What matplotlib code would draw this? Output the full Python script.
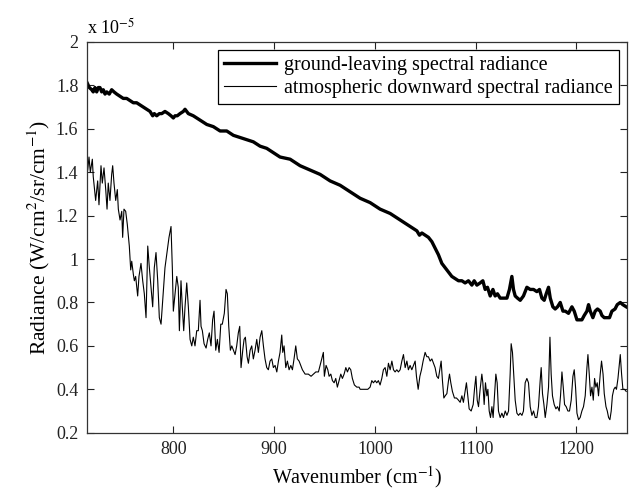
import matplotlib
matplotlib.use("Agg")
import matplotlib.pyplot as plt

# ---- data (radiance in units of 1e-5 W/cm^2/sr/cm^-1) ----
wn_ground = [714.6, 716.6, 719.0, 720.5, 722.2, 723.9, 725.5, 727.2, 728.9, 730.5, 732.2, 733.9,
             736.4, 738.8, 741.1, 743.8, 747.1, 750.3, 753.7, 757.0, 760.3, 763.6, 766.9, 770.2,
             773.6, 776.9, 779.5, 781.1, 783.5, 786.1, 788.5, 791.7, 795.0, 797.7, 800.0, 801.7,
             803.9, 806.6, 809.9, 811.6, 814.9, 819.8, 826.5, 833.2, 839.7, 846.4, 853.0, 859.6,
             866.2, 872.9, 879.4, 886.1, 892.7, 899.3, 905.9, 915.9, 925.8, 935.7, 945.7, 955.6,
             965.5, 975.4, 985.4, 995.3, 1005.2, 1015.2, 1025.1, 1035.0, 1041.7, 1044.3, 1046.7,
             1049.9, 1053.2, 1056.6, 1059.9, 1063.1, 1066.5, 1069.8, 1073.1, 1076.4, 1079.7,
             1083.0, 1086.4, 1089.6, 1092.9, 1096.3, 1098.6, 1101.3, 1104.5, 1107.2, 1109.5,
             1111.8, 1114.5, 1117.2, 1119.4, 1121.7, 1124.4, 1127.7, 1131.1, 1133.6, 1136.0,
             1137.6, 1139.3, 1141.6, 1144.3, 1147.5, 1150.9, 1154.2, 1157.5, 1160.8, 1163.4,
             1165.8, 1168.1, 1170.1, 1172.4, 1174.1, 1176.7, 1179.0, 1181.3, 1184.0, 1186.7,
             1189.0, 1192.2, 1195.6, 1197.9, 1200.6, 1203.1, 1205.5, 1207.8, 1210.5, 1212.1,
             1213.8, 1216.4, 1218.7, 1221.0, 1223.7, 1225.4, 1227.7, 1230.3, 1232.9, 1235.3,
             1238.4, 1240.6, 1243.6, 1246.1, 1249.5]
rad_ground = [1.81, 1.79, 1.78, 1.77, 1.79, 1.77, 1.79, 1.79, 1.77, 1.78, 1.76, 1.77,
              1.76, 1.78, 1.77, 1.76, 1.75, 1.74, 1.74, 1.73, 1.72, 1.72, 1.71, 1.70,
              1.69, 1.68, 1.66, 1.67, 1.66, 1.67, 1.67, 1.68, 1.67, 1.66, 1.65, 1.66,
              1.66, 1.67, 1.68, 1.69, 1.67, 1.66, 1.64, 1.62, 1.61, 1.59, 1.59, 1.57,
              1.56, 1.55, 1.54, 1.52, 1.51, 1.49, 1.47, 1.46, 1.43, 1.41, 1.39, 1.36,
              1.34, 1.31, 1.28, 1.26, 1.23, 1.21, 1.18, 1.15, 1.13, 1.11, 1.12,
              1.11, 1.10, 1.08, 1.05, 1.02, 0.98, 0.96, 0.94, 0.92, 0.91,
              0.90, 0.90, 0.89, 0.90, 0.88, 0.90, 0.88, 0.89, 0.90, 0.86,
              0.87, 0.83, 0.86, 0.83, 0.84, 0.82, 0.82, 0.82, 0.86, 0.92,
              0.86, 0.83, 0.82, 0.81, 0.83, 0.87, 0.86, 0.86, 0.85, 0.86,
              0.82, 0.81, 0.84, 0.87, 0.82, 0.78, 0.77, 0.78, 0.80, 0.76,
              0.76, 0.75, 0.78, 0.76, 0.72, 0.72, 0.72, 0.74, 0.76, 0.79,
              0.76, 0.73, 0.76, 0.77, 0.76, 0.74, 0.73, 0.73, 0.73, 0.76,
              0.77, 0.79, 0.80, 0.79, 0.78]

wn_atm = [715.0, 716.3, 717.6, 719.6, 720.5, 722.9, 724.9, 726.2, 728.2, 729.5, 731.2, 732.9,
          734.2, 735.4, 737.1, 738.8, 739.8, 741.1, 742.8, 744.4, 745.4, 747.1, 748.8, 749.7,
          751.0, 752.7, 754.3, 756.3, 757.7, 758.7, 760.3, 761.3, 762.6, 764.6, 765.9, 767.9,
          769.6, 771.2, 772.9, 774.6, 776.2, 777.8, 779.5, 781.1, 782.8, 784.5, 786.1, 787.8,
          789.8, 791.7, 793.7, 795.7, 797.7, 799.0, 800.0, 801.7, 803.4, 804.9, 806.0, 807.6,
          808.9, 810.3, 811.6, 813.3, 814.9, 816.6, 818.3, 819.8, 821.5, 823.2, 824.8, 826.5,
          827.5, 828.8, 830.5, 832.5, 834.1, 835.7, 837.4, 839.0, 840.4, 842.1, 843.7, 845.4,
          847.1, 848.6, 850.6, 852.3, 853.6, 855.0, 856.6, 858.0, 859.6, 861.3, 862.9, 864.5,
          865.9, 867.2, 868.9, 870.2, 871.5, 873.2, 874.5, 876.2, 877.8, 879.4, 881.1, 882.8,
          884.4, 886.1, 887.8, 889.4, 891.0, 892.7, 894.3, 896.0, 897.7, 899.3, 901.0, 902.7,
          904.3, 905.9, 907.6, 908.6, 909.9, 911.6, 913.2, 914.9, 916.6, 918.2, 919.8, 921.5,
          923.1, 924.8, 926.5, 928.1, 930.8, 934.0, 936.7, 939.0, 941.4, 944.0, 945.7, 947.3,
          948.9, 949.9, 951.6, 953.3, 954.6, 956.3, 957.9, 959.6, 961.2, 962.8, 964.5, 966.2,
          967.8, 969.5, 971.2, 972.8, 974.5, 976.1, 977.7, 979.7, 982.1, 984.4, 985.4, 987.7,
          990.3, 993.0, 995.3, 997.0, 998.6, 1000.3, 1001.9, 1003.5, 1005.2, 1006.9, 1008.5,
          1010.2, 1011.9, 1013.5, 1015.2, 1016.9, 1018.5, 1020.1, 1021.8, 1023.4, 1025.1,
          1026.8, 1028.4, 1030.1, 1031.8, 1033.3, 1035.0, 1036.7, 1038.3, 1040.0, 1041.3,
          1043.0, 1044.7, 1046.3, 1047.9, 1049.9, 1051.6, 1053.2, 1054.9, 1056.6, 1058.2,
          1059.8, 1061.5, 1063.1, 1064.8, 1065.8, 1067.1, 1068.5, 1069.8, 1071.5, 1073.1,
          1074.1, 1075.4, 1077.0, 1079.0, 1081.0, 1083.0, 1084.7, 1086.4, 1087.9, 1089.6,
          1090.9, 1092.3, 1093.6, 1095.6, 1097.6, 1098.9, 1100.3, 1101.6, 1102.9, 1104.5,
          1106.2, 1107.2, 1108.5, 1109.8, 1111.2, 1112.2, 1113.5, 1114.8, 1116.2, 1117.4,
          1118.8, 1120.1, 1121.4, 1122.7, 1124.4, 1126.1, 1127.7, 1129.4, 1131.1, 1132.7,
          1134.3, 1135.3, 1136.6, 1137.6, 1139.3, 1141.0, 1142.6, 1144.3, 1146.0, 1147.5,
          1149.2, 1150.9, 1152.5, 1154.2, 1155.9, 1157.5, 1159.2, 1160.8, 1162.4, 1164.1,
          1165.1, 1166.4, 1167.8, 1169.1, 1170.8, 1172.4, 1173.8, 1175.0, 1176.3, 1178.0,
          1179.7, 1181.3, 1183.0, 1184.3, 1185.7, 1187.0, 1188.3, 1189.9, 1191.6, 1193.2,
          1194.9, 1196.6, 1197.9, 1199.2, 1200.6, 1202.2, 1203.8, 1205.5, 1207.1, 1208.8,
          1210.5, 1211.5, 1212.8, 1214.1, 1215.5, 1216.8, 1218.1, 1219.4, 1220.7, 1222.0,
          1223.7, 1225.0, 1226.5, 1227.7, 1229.4, 1230.7, 1232.0, 1233.3, 1234.6, 1235.8,
          1237.2, 1238.6, 1239.8, 1241.3, 1242.6, 1243.6, 1244.9, 1246.2, 1247.8, 1249.5]
rad_atm = [1.41, 1.47, 1.40, 1.46, 1.38, 1.27, 1.36, 1.25, 1.43, 1.35, 1.42, 1.32,
           1.23, 1.35, 1.27, 1.39, 1.43, 1.35, 1.27, 1.32, 1.23, 1.18, 1.22, 1.10,
           1.23, 1.22, 1.16, 1.06, 0.95, 0.99, 0.93, 0.90, 0.92, 0.83, 0.92, 0.98,
           0.90, 0.84, 0.73, 1.06, 0.96, 0.87, 0.78, 0.96, 1.03, 0.90, 0.73, 0.70,
           0.83, 0.96, 1.03, 1.10, 1.15, 0.96, 0.76, 0.84, 0.92, 0.87, 0.67, 0.90,
           0.78, 0.67, 0.78, 0.89, 0.78, 0.63, 0.60, 0.64, 0.60, 0.67, 0.67, 0.81,
           0.69, 0.67, 0.61, 0.59, 0.63, 0.66, 0.60, 0.72, 0.76, 0.58, 0.63, 0.57,
           0.70, 0.70, 0.75, 0.86, 0.84, 0.69, 0.58, 0.60, 0.58, 0.56, 0.60, 0.66,
           0.69, 0.50, 0.58, 0.63, 0.64, 0.55, 0.52, 0.58, 0.60, 0.54, 0.58, 0.63,
           0.57, 0.64, 0.67, 0.60, 0.54, 0.50, 0.49, 0.53, 0.54, 0.50, 0.51, 0.48,
           0.53, 0.57, 0.65, 0.57, 0.60, 0.50, 0.53, 0.49, 0.51, 0.49, 0.54, 0.60,
           0.54, 0.53, 0.51, 0.49, 0.47, 0.47, 0.46, 0.47, 0.48, 0.48, 0.51, 0.54,
           0.57, 0.46, 0.51, 0.49, 0.46, 0.47, 0.44, 0.43, 0.45, 0.41, 0.44, 0.47,
           0.45, 0.47, 0.50, 0.48, 0.50, 0.49, 0.45, 0.42, 0.41, 0.41, 0.40, 0.40,
           0.40, 0.40, 0.41, 0.44, 0.43, 0.44, 0.43, 0.44, 0.42, 0.45, 0.49,
           0.50, 0.46, 0.52, 0.49, 0.53, 0.49, 0.48, 0.49, 0.48, 0.49,
           0.53, 0.56, 0.50, 0.53, 0.49, 0.51, 0.49, 0.51, 0.53, 0.46,
           0.40, 0.46, 0.49, 0.53, 0.57, 0.55, 0.55, 0.53, 0.54, 0.52,
           0.50, 0.46, 0.45, 0.50, 0.53, 0.44, 0.36, 0.37, 0.38, 0.44,
           0.47, 0.43, 0.39, 0.36, 0.36, 0.35, 0.34, 0.37, 0.34, 0.39,
           0.43, 0.37, 0.31, 0.30, 0.33, 0.40, 0.46, 0.35, 0.32, 0.40,
           0.47, 0.43, 0.33, 0.43, 0.37, 0.40, 0.30, 0.27, 0.32, 0.27,
           0.37, 0.47, 0.43, 0.30, 0.27, 0.29, 0.27, 0.30, 0.28, 0.30,
           0.47, 0.61, 0.57, 0.49, 0.35, 0.29, 0.28, 0.29, 0.28, 0.30,
           0.43, 0.45, 0.43, 0.32, 0.28, 0.30, 0.27, 0.27, 0.32, 0.44,
           0.50, 0.38, 0.33, 0.27, 0.33, 0.41, 0.64, 0.47, 0.37, 0.33,
           0.31, 0.32, 0.30, 0.37, 0.48, 0.41, 0.33, 0.32, 0.30, 0.30,
           0.35, 0.46, 0.49, 0.41, 0.29, 0.26, 0.27, 0.30, 0.32, 0.37,
           0.50, 0.56, 0.47, 0.37, 0.41, 0.35, 0.45, 0.41, 0.43, 0.37,
           0.47, 0.53, 0.47, 0.38, 0.32, 0.30, 0.27, 0.26, 0.30, 0.37,
           0.40, 0.41, 0.40, 0.45, 0.51, 0.56, 0.47, 0.40, 0.40, 0.39]

xticks = [800, 900, 1000, 1100, 1200]
yticks = [0.2, 0.4, 0.6, 0.8, 1.0, 1.2, 1.4, 1.6, 1.8, 2.0]
ytick_labels = ["0.2", "0.4", "0.6", "0.8", "1", "1.2", "1.4", "1.6", "1.8", "2"]
legend_labels = ["ground-leaving spectral radiance",
                 "atmospheric downward spectral radiance"]

plt.rcParams['font.family'] = ['Liberation Serif', 'DejaVu Serif']
plt.rcParams['mathtext.fontset'] = 'stix'

fig = plt.figure(figsize=(6.30, 4.91), dpi=100)
ax = fig.add_axes([0.1376, 0.1187, 0.8572, 0.7958])

ax.plot(wn_ground, rad_ground, color='black', lw=2.4, label=legend_labels[0])
ax.plot(wn_atm, rad_atm, color='black', lw=0.8, label=legend_labels[1])

ax.set_xlim(714, 1250)
ax.set_ylim(0.2, 2.0)
ax.set_xticks(xticks)
ax.set_xticklabels([str(t) for t in xticks])
ax.set_yticks(yticks)
ax.set_yticklabels(ytick_labels)
ax.tick_params(direction='in', top=True, right=True, length=5, width=0.8,
               labelsize=13, colors='#222222', pad=6)
for s in ax.spines.values():
    s.set_linewidth(0.9)
    s.set_color('#333333')

ax.set_xlabel(r'Wavenumber (cm$^{-1}$)', fontsize=14.5, labelpad=4)
ax.set_ylabel(r'Radiance (W/cm$^{2}$/sr/cm$^{-1}$)', fontsize=15.5, labelpad=3)
ax.text(0.0, 1.012, r'x 10$^{-5}$', transform=ax.transAxes, ha='left', va='bottom',
        fontsize=13)

leg = ax.legend(loc='upper right', bbox_to_anchor=(0.986, 0.98), borderaxespad=0,
                fancybox=False, edgecolor='black', framealpha=1, fontsize=14.5,
                handlelength=2.6, borderpad=0.3, labelspacing=0.2, handletextpad=0.4)
leg.get_frame().set_linewidth(0.9)

fig.savefig('out.png', dpi=100)
